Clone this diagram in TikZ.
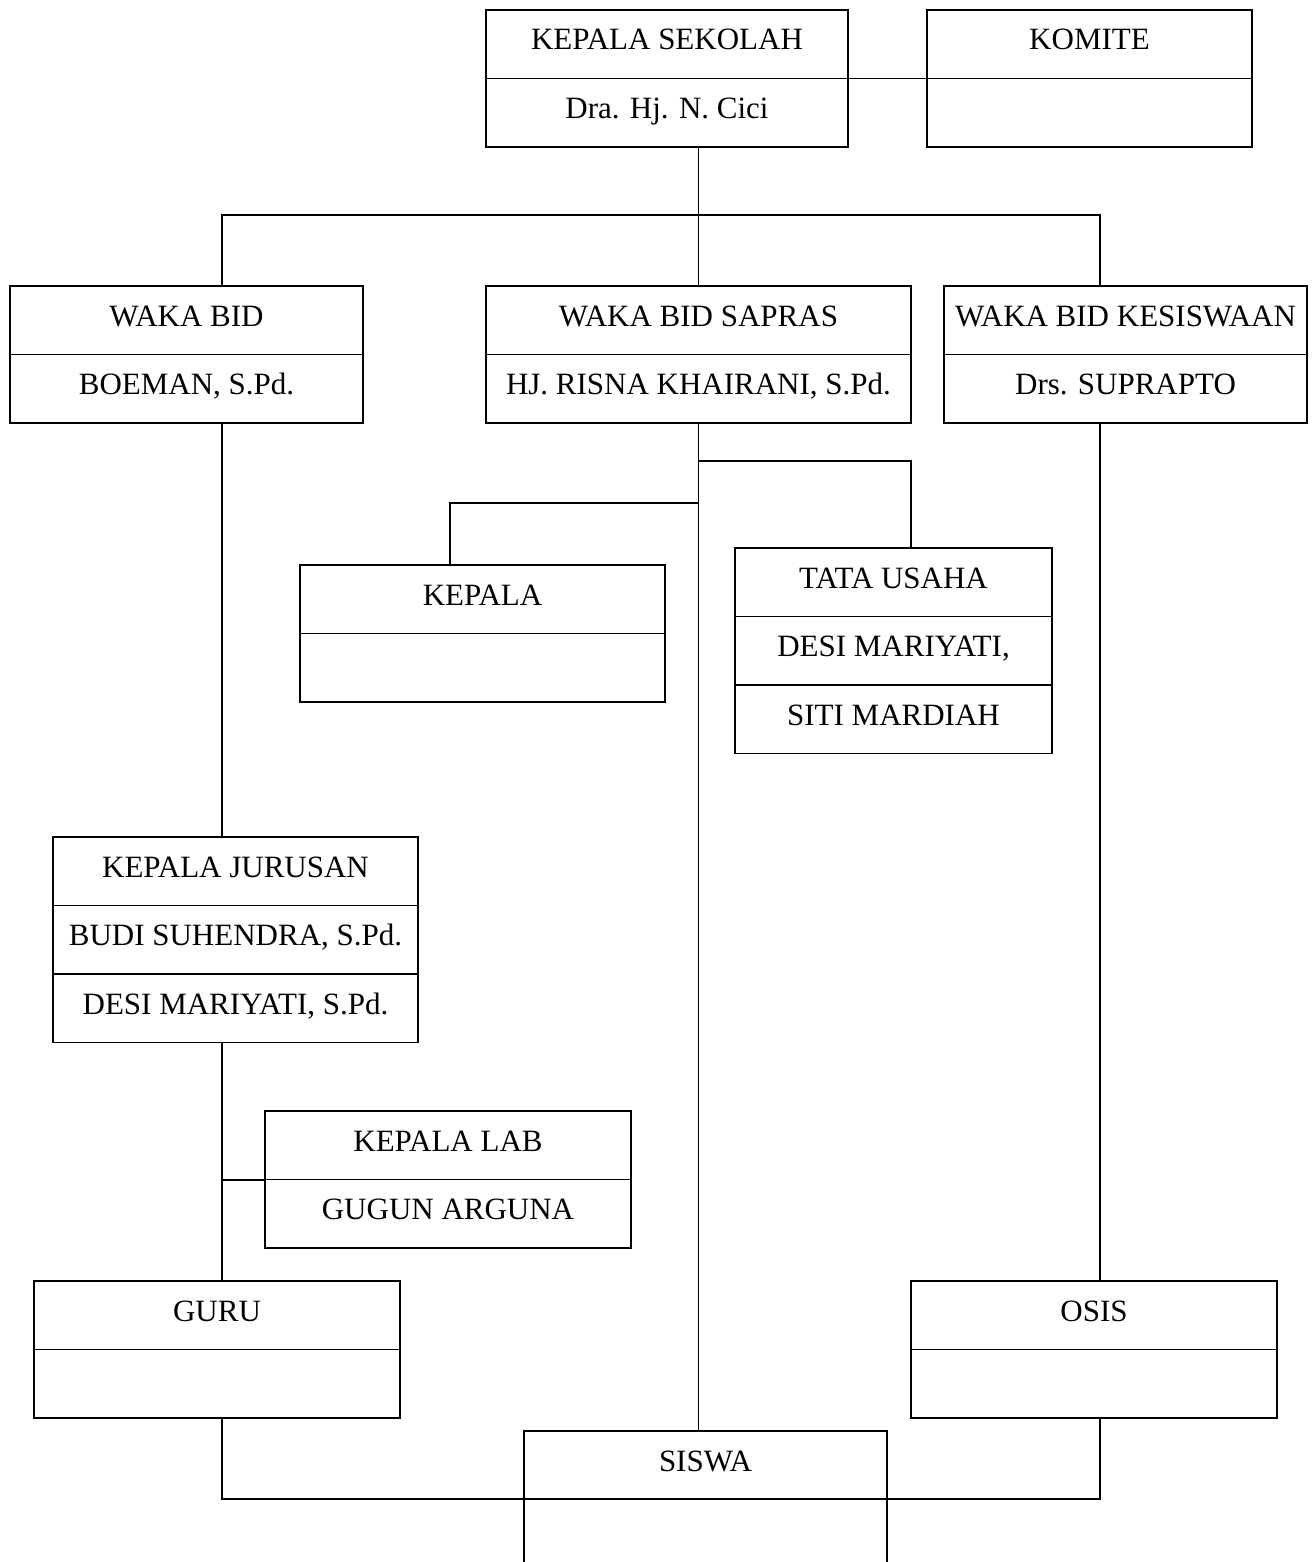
\documentclass[tikz,border=0pt]{standalone}
\usepackage{fontspec}
\setmainfont{Liberation Serif}
\usetikzlibrary{calc,positioning}

% horizontal rules inside a box, one per row boundary
\newcommand{\rowrules}[2]{%
  \foreach \k in {1,...,#2}{\draw ($(#1.north west)+(0,\k*68.5)$) -- ($(#1.north east)+(0,\k*68.5)$);}%
}

\begin{document}
\begin{tikzpicture}[x=1pt,y=-1pt,line width=1.8pt,
    box/.style={draw,anchor=north west,inner sep=0pt,outer sep=0pt,minimum height=137pt},
    lbl/.style={font=\fontsize{31}{37}\selectfont,anchor=base,inner sep=0pt}]
    \useasboundingbox (0,0) rectangle (1312,1562);
    \clip (0,0) rectangle (1312,1562);

    % top row
    \node[box,minimum width=362pt] (ks) at (486,10) {};
    \rowrules{ks}{1}
    \node[lbl] (ks-a) at ($(ks.north)+(0,40)$) {KEPALA SEKOLAH};
    \node[lbl] (ks-b) at ($(ks.north)+(0,108.5)$) {Dra. Hj. N. Cici};

    \node[box,minimum width=325pt] (kom) at (927,10) {};
    \rowrules{kom}{1}
    \node[lbl] (kom-a) at ($(kom.north)+(0,40)$) {KOMITE};

    % waka
    \node[box,minimum width=353pt] (wbid) at (10,286) {};
    \rowrules{wbid}{1}
    \node[lbl] (wbid-a) at ($(wbid.north)+(0,40)$) {WAKA BID};
    \node[lbl] (wbid-b) at ($(wbid.north)+(0,108.5)$) {BOEMAN, S.Pd.};

    \node[box,minimum width=425pt] (wsap) at (486,286) {};
    \rowrules{wsap}{1}
    \node[lbl] (wsap-a) at ($(wsap.north)+(0,40)$) {WAKA BID SAPRAS};
    \node[lbl] (wsap-b) at ($(wsap.north)+(0,108.5)$) {HJ. RISNA KHAIRANI, S.Pd.};

    \node[box,minimum width=363pt] (wkes) at (944,286) {};
    \rowrules{wkes}{1}
    \node[lbl] (wkes-a) at ($(wkes.north)+(0,40)$) {WAKA BID KESISWAAN};
    \node[lbl] (wkes-b) at ($(wkes.north)+(0,108.5)$) {Drs. SUPRAPTO};

    % middle
    \node[box,minimum width=365pt] (kep) at (300,565) {};
    \rowrules{kep}{1}
    \node[lbl] (kep-a) at ($(kep.north)+(0,40)$) {KEPALA};

    \node[box,minimum width=317pt,minimum height=205.5pt] (tu) at (735,548) {};
    \rowrules{tu}{2}
    \node[lbl] (tu-a) at ($(tu.north)+(0,40)$) {TATA USAHA};
    \node[lbl] (tu-b) at ($(tu.north)+(0,108.5)$) {DESI MARIYATI,};
    \node[lbl] (tu-c) at ($(tu.north)+(0,177)$) {SITI MARDIAH};

    \node[box,minimum width=365pt,minimum height=205.5pt] (kj) at (53,837) {};
    \rowrules{kj}{2}
    \node[lbl] (kj-a) at ($(kj.north)+(0,40)$) {KEPALA JURUSAN};
    \node[lbl] (kj-b) at ($(kj.north)+(0,108.5)$) {BUDI SUHENDRA, S.Pd.};
    \node[lbl] (kj-c) at ($(kj.north)+(0,177)$) {DESI MARIYATI, S.Pd.};

    \node[box,minimum width=366pt] (lab) at (265,1111) {};
    \rowrules{lab}{1}
    \node[lbl] (lab-a) at ($(lab.north)+(0,40)$) {KEPALA LAB};
    \node[lbl] (lab-b) at ($(lab.north)+(0,108.5)$) {GUGUN ARGUNA};

    % bottom
    \node[box,minimum width=366pt] (guru) at (34,1281) {};
    \rowrules{guru}{1}
    \node[lbl] (guru-a) at ($(guru.north)+(0,40)$) {GURU};

    \node[box,minimum width=366pt] (osis) at (911,1281) {};
    \rowrules{osis}{1}
    \node[lbl] (osis-a) at ($(osis.north)+(0,40)$) {OSIS};

    \node[box,minimum width=363pt] (sis) at (524,1431) {};
    \node[lbl] (sis-a) at ($(sis.north)+(0,40)$) {SISWA};

    % connectors
    \coordinate (busw) at (222,215);
    \coordinate (buse) at (1100,215);
    \coordinate (sapl) at (450,503);
    \coordinate (sapr) at (911,461);
    \coordinate (labj) at (222,1180);
    \coordinate (botw) at (222,1499);
    \coordinate (bote) at (1100,1499);

    \draw (ks) -- (kom);
    \draw (ks.south -| wsap.north) -- (wsap.north);
    \draw (busw |- wbid.north) -- (busw) -- (buse) -- (buse |- wkes.north);
    \draw (wsap.south) -- (wsap.south |- sis.north);
    \draw (wsap.south |- sapr) -- (sapr) -- (sapr |- tu.north);
    \draw (wsap.south |- sapl) -- (sapl) -- (sapl |- kep.north);
    \draw (busw |- wbid.south) -- (busw |- kj.north);
    \draw (busw |- kj.south) -- (busw |- guru.north);
    \draw (labj) -- (labj -| lab.west);
    \draw (buse |- wkes.south) -- (buse |- osis.north);
    \draw (botw |- guru.south) -- (botw) -- (bote) -- (bote |- osis.south);
\end{tikzpicture}
\end{document}
